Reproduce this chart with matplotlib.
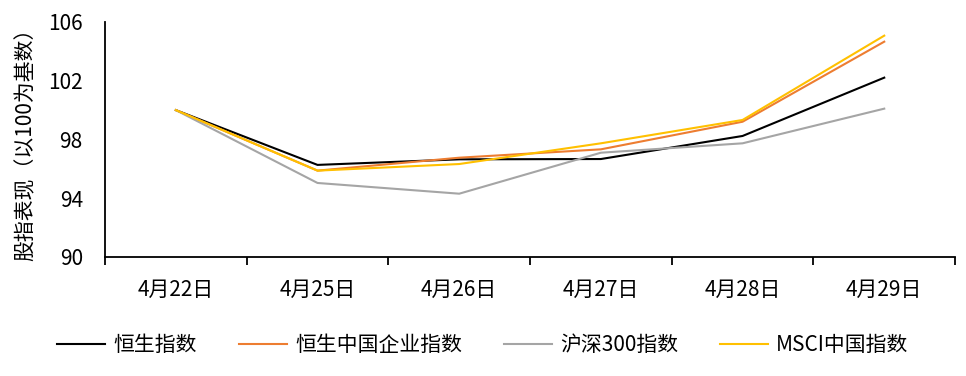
import numpy as np
import matplotlib.pyplot as plt

plt.rcParams['font.family'] = ['Noto Sans CJK SC', 'DejaVu Sans']

dates = ["4月22日", "4月25日", "4月26日", "4月27日", "4月28日", "4月29日"]
hsi = [100.0, 96.27, 96.65, 96.67, 98.24, 102.21]
hscei = [100.0, 95.88, 96.76, 97.33, 99.21, 104.66]
csi300 = [100.0, 95.04, 94.31, 97.10, 97.74, 100.10]
msci = [100.0, 95.88, 96.33, 97.74, 99.33, 105.07]

series = [
    ("恒生指数", hsi, "#000000"),
    ("恒生中国企业指数", hscei, "#ED7D31"),
    ("沪深300指数", csi300, "#A5A5A5"),
    ("MSCI中国指数", msci, "#FFC000"),
]

FS = 15

fig = plt.figure(figsize=(9.66, 3.76), dpi=100)
ax = fig.add_axes([0.1087, 0.3165, 0.88, 0.625])

x = np.arange(len(dates))
for name, vals, col in series:
    ax.plot(x, vals, color=col, lw=1.5, label=name)

ax.set_ylim(90, 106)
ax.set_yticks([90, 94, 98, 102, 106])
ax.set_xlim(-0.5, len(dates) - 0.5)
ax.set_xticks(x)
ax.set_xticklabels(dates)
ax.set_xticks(np.arange(-0.5, len(dates)), minor=True)
ax.tick_params(axis='x', which='major', length=0, pad=16, labelsize=FS)
ax.tick_params(axis='x', which='minor', length=6, width=1.3, direction='out')
ax.tick_params(axis='y', length=0, pad=16, labelsize=FS)

for s in ['top', 'right']:
    ax.spines[s].set_visible(False)
for s in ['left', 'bottom']:
    ax.spines[s].set_linewidth(1.3)

ax.set_ylabel("股指表现（以100为基数）", fontsize=FS, labelpad=8)

fig.legend(loc='center', bbox_to_anchor=(0.50, 0.083), ncol=4, frameon=False,
           fontsize=FS, handlelength=2.3, columnspacing=2.0, handletextpad=0.4)

fig.savefig("out.png", dpi=100)
